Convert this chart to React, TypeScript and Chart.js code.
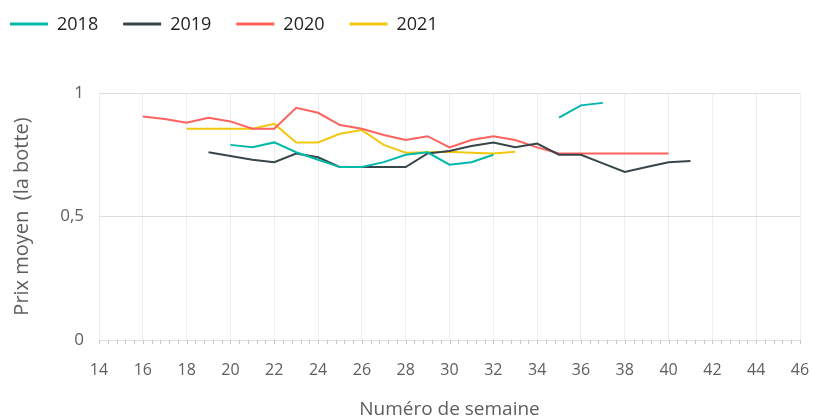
import React, { useEffect, useRef } from "react";
import { Chart, registerables } from "chart.js";

Chart.register(...registerables);

const weeks = [16, 17, 18, 19, 20, 21, 22, 23, 24, 25, 26, 27, 28, 29, 30, 31, 32, 33, 34, 35, 36, 37, 38, 39, 40, 41];

const seriesLabels = ["2018", "2019", "2020", "2021"];

const values2018 = [null, null, null, null, 0.79, 0.78, 0.8, 0.76, 0.73, 0.7, 0.7, 0.72, 0.75, 0.76, 0.71, 0.72, 0.75, null, null, 0.9, 0.95, 0.96, null, null, null, null];
const values2019 = [null, null, null, 0.76, 0.745, 0.73, 0.72, 0.755, 0.74, 0.7, 0.7, 0.7, 0.7, 0.755, 0.765, 0.785, 0.8, 0.78, 0.795, 0.75, 0.75, 0.715, 0.68, 0.7, 0.72, 0.725];
const values2020 = [0.905, 0.895, 0.88, 0.9, 0.885, 0.855, 0.855, 0.94, 0.92, 0.87, 0.855, 0.83, 0.81, 0.825, 0.78, 0.81, 0.825, 0.81, 0.78, 0.755, 0.755, 0.755, 0.755, 0.755, 0.755, null];
const values2021 = [null, null, 0.855, 0.855, 0.855, 0.855, 0.875, 0.8, 0.8, 0.835, 0.85, 0.79, 0.758, 0.76, 0.762, 0.758, 0.755, 0.762, null, null, null, null, null, null, null, null];

const xTicks = { min: 14, max: 46, step: 2 };
const yTicks = { min: 0, max: 1, step: 0.5 };

const colors = ["#01B8AA", "#374649", "#FD625E", "#F2C80F"];
const FONT = "'Segoe UI', 'Open Sans', sans-serif";

const allValues = [values2018, values2019, values2020, values2021];

const legendPlugin = {
  id: "customLegend",
  afterDraw(chart: any) {
    const ctx = chart.ctx;
    ctx.save();
    ctx.font = `18px ${FONT}`;
    ctx.textBaseline = "middle";
    ctx.textAlign = "left";
    let x = 10;
    const y = 24;
    chart.data.datasets.forEach((ds: any) => {
      ctx.strokeStyle = ds.borderColor;
      ctx.lineWidth = 3;
      ctx.beginPath();
      ctx.moveTo(x, y);
      ctx.lineTo(x + 38, y);
      ctx.stroke();
      ctx.fillStyle = "#252423";
      ctx.fillText(ds.label, x + 47, y + 1);
      x += 47 + ctx.measureText(ds.label).width + 25;
    });
    ctx.restore();
  },
};

const minorTicksPlugin = {
  id: "minorTicks",
  afterDraw(chart: any) {
    const xs = chart.scales.x;
    const ys = chart.scales.y;
    const ctx = chart.ctx;
    const base = ys.getPixelForValue(0);
    ctx.save();
    ctx.strokeStyle = "#c8c8c8";
    ctx.lineWidth = 1;
    for (let i = 0; i <= 80; i++) {
      const v = xTicks.min + i * 0.4;
      const px = Math.round(xs.getPixelForValue(v)) + 0.5;
      ctx.beginPath();
      ctx.moveTo(px, base);
      ctx.lineTo(px, base + 4);
      ctx.stroke();
    }
    ctx.restore();
  },
};

export default function App() {
  const ref = useRef<HTMLCanvasElement | null>(null);
  useEffect(() => {
    if (!ref.current) return;
    const chart = new Chart(ref.current, {
      type: "line",
      data: {
        datasets: seriesLabels.map((label, i) => ({
          label,
          data: weeks.map((w, j) => ({ x: w, y: allValues[i][j] })),
          borderColor: colors[i],
          backgroundColor: colors[i],
          borderWidth: 2,
          pointRadius: 0,
          tension: 0,
          spanGaps: false,
        })),
      },
      options: {
        responsive: false,
        animation: false,
        layout: { padding: { top: 93, right: 0, left: 0, bottom: 0 } },
        plugins: {
          legend: { display: false },
          tooltip: { enabled: false },
        },
        scales: {
          x: {
            type: "linear",
            min: xTicks.min,
            max: xTicks.max,
            afterFit: (s: any) => {
              s.height = 78;
              s.paddingRight = 13;
              s.paddingLeft = 0;
            },
            ticks: {
              stepSize: xTicks.step,
              padding: 21,
              color: "#605E5C",
              font: { family: FONT, size: 16 },
              maxRotation: 0,
            },
            grid: { color: "#eeeeee", drawTicks: false },
            border: { display: false },
            title: {
              display: true,
              text: "Numéro de semaine",
              color: "#605E5C",
              font: { family: FONT, size: 19, lineHeight: 0.85 },
              padding: 0,
            },
          },
          y: {
            min: yTicks.min,
            max: yTicks.max,
            afterFit: (s: any) => {
              s.width = 99;
            },
            ticks: {
              stepSize: yTicks.step,
              padding: 15,
              color: "#605E5C",
              font: { family: FONT, size: 17 },
              callback: (v: any) => String(v).replace(".", ","),
            },
            grid: { color: "#dedede", drawTicks: false },
            border: { display: false },
            title: {
              display: true,
              text: "Prix moyen  (la botte)",
              color: "#605E5C",
              font: { family: FONT, size: 20, lineHeight: 1 },
              padding: { top: 12, bottom: 0 },
            },
          },
        },
      },
      plugins: [legendPlugin, minorTicksPlugin],
    } as any);
    return () => chart.destroy();
  }, []);
  return (
    <div style={{ position: "absolute", left: 0, top: 0, width: 813, height: 418, background: "#fff" }}>
      <canvas ref={ref} width={813} height={418} />
    </div>
  );
}
